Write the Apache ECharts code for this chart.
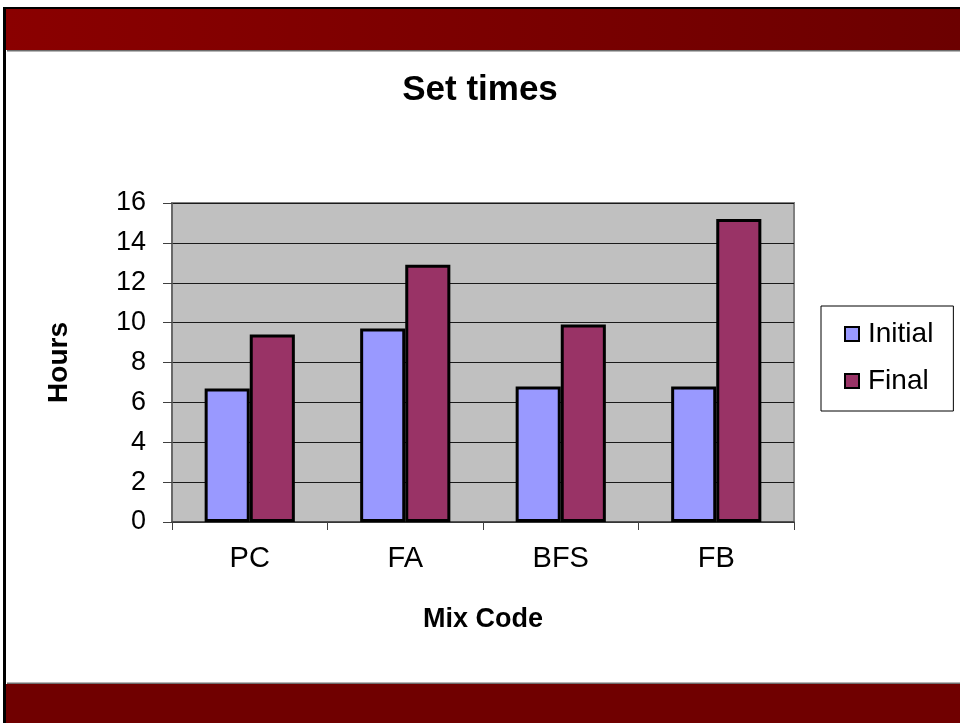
<!DOCTYPE html>
<html>
<head>
<meta charset="utf-8">
<title>Set times</title>
<script src="https://cdn.jsdelivr.net/npm/echarts@6/dist/echarts.min.js"></script>
<style>
  html, body { margin: 0; padding: 0; background: #ffffff; }
  #chart { width: 960px; height: 723px; }
</style>
</head>
<body>
<div id="chart"></div>
<script>
// Mix codes along the x axis
const categories = ['PC', 'FA', 'BFS', 'FB'];
// Set times in hours
const initialHours = [6.7, 9.7, 6.8, 6.8];
const finalHours = [9.4, 12.9, 9.9, 15.2];
// Value axis range
const yMin = 0;
const yMax = 16;
const yStep = 2;

const FONT = '"Liberation Sans", Arial, sans-serif';

const chart = echarts.init(document.getElementById('chart'), null, { renderer: 'canvas' });

chart.setOption({
  animation: false,
  backgroundColor: '#ffffff',
  textStyle: { fontFamily: FONT, color: '#000' },
  graphic: [
    // slide header band
    {
      type: 'rect', z: -10, silent: true,
      shape: { x: 6, y: 9, width: 954, height: 41 },
      style: {
        fill: new echarts.graphic.LinearGradient(0, 0, 1, 0, [
          { offset: 0, color: '#8a0000' },
          { offset: 1, color: '#6c0000' }
        ])
      }
    },
    { type: 'rect', z: -9, silent: true, shape: { x: 3, y: 7, width: 957, height: 2 }, style: { fill: '#000' } },
    { type: 'rect', z: -9, silent: true, shape: { x: 7, y: 50, width: 953, height: 1.5 }, style: { fill: '#6e6e6e' } },
    // slide footer band
    { type: 'rect', z: -10, silent: true, shape: { x: 6, y: 684, width: 954, height: 39 }, style: { fill: '#700000' } },
    { type: 'rect', z: -9, silent: true, shape: { x: 7, y: 682.5, width: 953, height: 1.5 }, style: { fill: '#6e6e6e' } },
    // left frame edge
    { type: 'rect', z: -9, silent: true, shape: { x: 3, y: 7, width: 3, height: 716 }, style: { fill: '#000' } }
  ],
  title: {
    text: 'Set times',
    left: 'center',
    top: 68,
    textStyle: { fontFamily: FONT, fontSize: 35, fontWeight: 'bold', color: '#000' }
  },
  legend: {
    orient: 'vertical',
    left: 821,
    top: 306,
    padding: [14, 20, 16, 23],
    itemGap: 19,
    itemWidth: 14,
    itemHeight: 14,
    backgroundColor: '#ffffff',
    borderColor: '#000',
    borderWidth: 1,
    icon: 'rect',
    itemStyle: { borderColor: '#000', borderWidth: 2 },
    textStyle: { fontFamily: FONT, fontSize: 28, color: '#000', padding: [0, 0, 0, 4] },
    data: ['Initial', 'Final']
  },
  grid: {
    left: 172,
    right: 166,
    top: 203,
    bottom: 201,
    show: true,
    backgroundColor: '#c0c0c0',
    borderColor: '#808080',
    borderWidth: 2
  },
  xAxis: {
    type: 'category',
    data: categories,
    name: 'Mix Code',
    nameLocation: 'middle',
    nameGap: 84,
    nameTextStyle: { fontFamily: FONT, fontSize: 27, fontWeight: 'bold', color: '#000' },
    axisLine: { show: true, lineStyle: { color: '#404040', width: 1.5 } },
    axisTick: { show: true, alignWithLabel: false, length: 8, lineStyle: { color: '#404040', width: 1 } },
    axisLabel: { fontFamily: FONT, fontSize: 29, color: '#000', margin: 22 },
    splitLine: { show: false }
  },
  yAxis: {
    type: 'value',
    min: yMin,
    max: yMax,
    interval: yStep,
    name: 'Hours',
    nameLocation: 'middle',
    nameGap: 99,
    nameRotate: 90,
    nameTextStyle: { fontFamily: FONT, fontSize: 28, fontWeight: 'bold', color: '#000' },
    axisLine: { show: true, lineStyle: { color: '#606060', width: 1.5 } },
    axisTick: { show: true, length: 9, lineStyle: { color: '#404040', width: 1 } },
    axisLabel: { fontFamily: FONT, fontSize: 27, color: '#000', margin: 26 },
    splitLine: { show: true, lineStyle: { color: '#1a1a1a', width: 1 } }
  },
  series: [
    {
      name: 'Initial',
      type: 'bar',
      data: initialHours,
      barGap: '0%',
      barCategoryGap: '42%',
      itemStyle: { color: '#9999ff', borderColor: '#000', borderWidth: 3 }
    },
    {
      name: 'Final',
      type: 'bar',
      data: finalHours,
      barGap: '0%',
      barCategoryGap: '42%',
      itemStyle: { color: '#993366', borderColor: '#000', borderWidth: 3 }
    }
  ]
});
</script>
</body>
</html>
